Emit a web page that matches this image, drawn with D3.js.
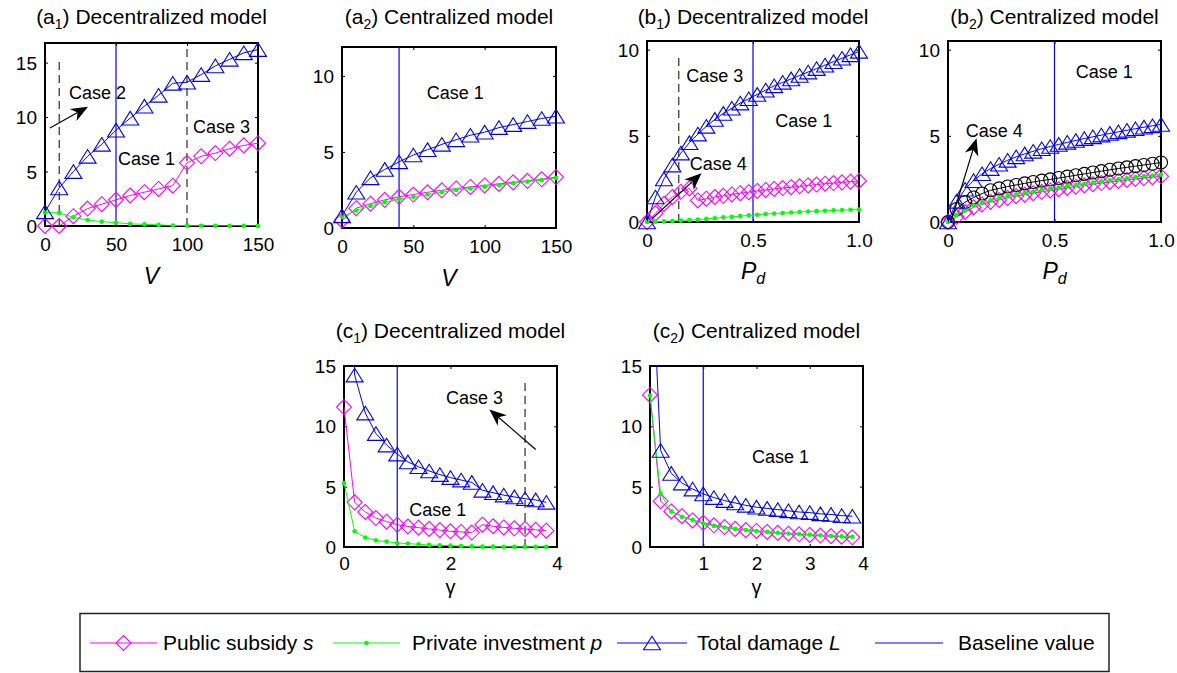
<!DOCTYPE html>
<html>
<head>
<meta charset="utf-8">
<script src="https://cdn.jsdelivr.net/npm/d3@7"></script>
<style>
  body { margin: 0; background: #fff; }
  svg text { font-family: "Liberation Sans", Arial, Helvetica, sans-serif; fill: #000; }
</style>
</head>
<body>
<div id="fig"></div>
<script>
// ---------------- data ----------------
// x levels
var vLevels = [0, 10, 20, 30, 40, 50, 60, 70, 80, 90, 100, 110, 120, 130, 140, 150];
var pdLevels = [0, 0.04, 0.08, 0.12, 0.16, 0.2, 0.24, 0.28, 0.32, 0.36, 0.4, 0.44, 0.48,
  0.52, 0.56, 0.6, 0.64, 0.68, 0.72, 0.76, 0.8, 0.84, 0.88, 0.92, 0.96, 1.0];
var gammaLevels = [0, 0.2, 0.4, 0.6, 0.8, 1.0, 1.2, 1.4, 1.6, 1.8, 2.0, 2.2, 2.4, 2.6, 2.8,
  3.0, 3.2, 3.4, 3.6, 3.8];

// (a1) decentralized, V
var a1Subsidy = [0, 0, 0.9, 1.6, 2.0, 2.4, 2.8, 3.1, 3.4, 3.7, 5.8, 6.4, 6.7, 7.1, 7.4, 7.6];
var a1Invest = [1.25, 1.2, 0.8, 0.55, 0.4, 0.3, 0.2, 0.15, 0.1, 0.05, 0.03, 0.02, 0.02, 0.01, 0.01, 0.01];
var a1Damage = [1.3, 3.5, 5.0, 6.4, 7.5, 8.8, 9.9, 11.0, 12.0, 13.1, 13.2, 13.9, 14.7, 15.3, 15.9, 16.2];

// (a2) centralized, V
var a2Subsidy = [0.5, 1.3, 1.6, 1.85, 2.05, 2.2, 2.35, 2.48, 2.6, 2.7, 2.8, 2.9, 3.0, 3.1, 3.2, 3.35];
var a2Invest = [0.75, 1.15, 1.45, 1.7, 1.9, 2.05, 2.2, 2.35, 2.5, 2.6, 2.72, 2.83, 2.95, 3.05, 3.15, 3.3];
var a2Damage = [0.8, 2.35, 3.3, 3.85, 4.35, 4.8, 5.15, 5.5, 5.8, 6.1, 6.3, 6.6, 6.8, 7.0, 7.2, 7.35];

// (b1) decentralized, Pd
var b1Subsidy = [0, 0.5, 1.05, 1.45, 1.75, 1.95, 1.25, 1.35, 1.45, 1.52, 1.6, 1.67, 1.73,
  1.8, 1.86, 1.92, 1.97, 2.02, 2.07, 2.12, 2.17, 2.22, 2.26, 2.3, 2.34, 2.38];
var b1Invest = [0, 0.02, 0.04, 0.06, 0.08, 0.11, 0.14, 0.18, 0.22, 0.27, 0.3, 0.34, 0.38,
  0.42, 0.46, 0.49, 0.52, 0.55, 0.58, 0.61, 0.63, 0.65, 0.67, 0.69, 0.71, 0.72];
var b1Damage = [0, 1.45, 2.5, 3.3, 4.0, 4.6, 5.1, 5.55, 5.95, 6.3, 6.6, 6.9, 7.15,
  7.4, 7.65, 7.9, 8.1, 8.3, 8.5, 8.7, 8.9, 9.1, 9.3, 9.5, 9.7, 9.9];

// (b2) centralized, Pd (circles: extra curve without legend entry)
var b2Subsidy = [0, 0.3, 0.58, 0.85, 1.02, 1.16, 1.28, 1.4, 1.5, 1.58, 1.67, 1.75, 1.83,
  1.9, 1.98, 2.05, 2.12, 2.19, 2.26, 2.32, 2.38, 2.44, 2.5, 2.55, 2.6, 2.65];
var b2Invest = [0, 0.4, 0.68, 0.95, 1.12, 1.26, 1.38, 1.5, 1.6, 1.68, 1.77, 1.85, 1.93,
  2.0, 2.08, 2.15, 2.22, 2.29, 2.36, 2.42, 2.48, 2.54, 2.6, 2.65, 2.7, 2.75];
var b2Damage = [0, 1.2, 1.9, 2.4, 2.8, 3.1, 3.35, 3.58, 3.78, 3.95, 4.1, 4.25, 4.38,
  4.5, 4.62, 4.73, 4.84, 4.94, 5.04, 5.14, 5.23, 5.32, 5.41, 5.5, 5.58, 5.66];
var b2Circle = [0, 0.75, 1.15, 1.42, 1.65, 1.84, 1.95, 2.06, 2.15, 2.24, 2.32, 2.4, 2.47,
  2.55, 2.63, 2.71, 2.79, 2.87, 2.95, 3.03, 3.1, 3.17, 3.24, 3.31, 3.38, 3.45];

// (c1) decentralized, gamma
var c1Subsidy = [11.6, 3.7, 2.9, 2.4, 2.1, 1.85, 1.7, 1.6, 1.5, 1.4, 1.3, 1.25, 1.2,
  1.85, 1.72, 1.62, 1.55, 1.5, 1.42, 1.35];
var c1Invest = [5.3, 1.3, 0.78, 0.55, 0.45, 0.33, 0.28, 0.22, 0.17, 0.14, 0.11, 0.08, 0.05,
  0.03, 0.03, 0.02, 0.02, 0.02, 0.02, 0.02];
var c1Damage = [60, 14.25, 11.1, 9.4, 8.45, 7.7, 7.05, 6.65, 6.3, 6.0, 5.75, 5.55, 5.35,
  4.7, 4.5, 4.3, 4.15, 4.0, 3.9, 3.7];

// (c2) centralized, gamma
var c2Subsidy = [12.6, 3.8, 2.95, 2.55, 2.2, 2.0, 1.8, 1.65, 1.5, 1.4, 1.33, 1.25, 1.17,
  1.1, 1.05, 1.0, 0.95, 0.9, 0.85, 0.8];
var c2Invest = [12.55, 4.4, 2.95, 2.5, 2.25, 1.95, 1.75, 1.62, 1.5, 1.4, 1.32, 1.25, 1.18,
  1.12, 1.07, 1.02, 0.97, 0.92, 0.88, 0.85];
var c2Damage = [27, 8.0, 6.1, 5.3, 4.8, 4.4, 4.1, 3.85, 3.65, 3.45, 3.3, 3.2, 3.1,
  3.0, 2.9, 2.85, 2.75, 2.7, 2.6, 2.55];

// ticks
var xTicksV = [0, 50, 100, 150];
var xTicksPd = [0, 0.5, 1.0];
var xTickLabelsPd = ["0", "0.5", "1.0"];
var xTicksG1 = [0, 2, 4];
var xTicksG2 = [1, 2, 3, 4];
var yTicks15 = [0, 5, 10, 15];
var yTicks10 = [0, 5, 10];

// titles and legend text
var titleLetters = ["a", "a", "b", "b", "c", "c"];
var titleIndex = ["1", "2", "1", "2", "1", "2"];
var titleModels = ["Decentralized model", "Centralized model", "Decentralized model",
  "Centralized model", "Decentralized model", "Centralized model"];
var legendNames = ["Public subsidy ", "Private investment ", "Total damage ", "Baseline value"];
var legendSymbols = ["s", "p", "L", ""];

// ---------------- styles ----------------
var MAGENTA = "#ff00ff", GREEN = "#00ff00", BLUE = "#0000ff";

var symDiamond = { draw: function (ctx, r) {
  ctx.moveTo(0, -r); ctx.lineTo(r, 0); ctx.lineTo(0, r); ctx.lineTo(-r, 0); ctx.closePath();
} };
var symTriangle = { draw: function (ctx, r) {
  ctx.moveTo(0, -r * 0.8); ctx.lineTo(r, r * 0.8); ctx.lineTo(-r, r * 0.8); ctx.closePath();
} };

var styleSubsidy = { color: MAGENTA, symbol: d3.symbol(symDiamond, 7.5), fill: "none" };
var styleInvest = { color: GREEN, symbol: d3.symbol(d3.symbolCircle, 17), fill: GREEN };
var styleDamage = { color: BLUE, symbol: d3.symbol(symTriangle, 8.5), fill: "none" };
var styleCircle = { color: "#000", symbol: d3.symbol(d3.symbolCircle, 133), fill: "none" };

// ---------------- panel set-up ----------------
var panels = [
  { left: 45, top: 43, w: 213, h: 183, xDomain: [0, 150], yDomain: [0, 16.8],
    xs: vLevels, series: [[a1Subsidy, styleSubsidy], [a1Invest, styleInvest], [a1Damage, styleDamage]],
    xTicks: xTicksV, yTicks: yTicks15, xLabel: "V", baseline: 50,
    dashed: [[10, 15.5], [100, 16.8]],
    cases: [["Case 2", 37, 12.2], ["Case 1", 71.5, 6.2], ["Case 3", 124.3, 9.1]],
    arrows: [[3.5, 9.0, 30.3, 10.95]] },
  { left: 342, top: 47, w: 214, h: 181, xDomain: [0, 150], yDomain: [0, 11.9],
    xs: vLevels, series: [[a2Subsidy, styleSubsidy], [a2Invest, styleInvest], [a2Damage, styleDamage]],
    xTicks: xTicksV, yTicks: yTicks10, xLabel: "V", baseline: 40,
    dashed: [], cases: [["Case 1", 79.4, 8.9]], arrows: [] },
  { left: 647, top: 41, w: 212, h: 181, xDomain: [0, 1], yDomain: [0, 10.5],
    xs: pdLevels, series: [[b1Subsidy, styleSubsidy], [b1Invest, styleInvest], [b1Damage, styleDamage]],
    xTicks: xTicksPd, xTickLabels: xTickLabelsPd, yTicks: yTicks10, xLabel: "Pd", baseline: 0.5,
    dashed: [[0.15, 9.8]],
    cases: [["Case 3", 0.32, 8.5], ["Case 1", 0.74, 5.9], ["Case 4", 0.336, 3.4]],
    arrows: [[0.025, 0.2, 0.257, 2.83]] },
  { left: 948, top: 41, w: 213, h: 181, xDomain: [0, 1], yDomain: [0, 10.5],
    xs: pdLevels, series: [[b2Subsidy, styleSubsidy], [b2Circle, styleCircle], [b2Invest, styleInvest], [b2Damage, styleDamage]],
    xTicks: xTicksPd, xTickLabels: xTickLabelsPd, yTicks: yTicks10, xLabel: "Pd", baseline: 0.5,
    dashed: [], cases: [["Case 1", 0.734, 8.74], ["Case 4", 0.217, 5.32]],
    arrows: [[0.016, 0.1, 0.134, 4.86]] },
  { left: 344, top: 366, w: 213, h: 181, xDomain: [0, 4], yDomain: [0, 15],
    xs: gammaLevels, series: [[c1Subsidy, styleSubsidy], [c1Invest, styleInvest], [c1Damage, styleDamage]],
    xTicks: xTicksG1, yTicks: yTicks15, xLabel: "γ", baseline: 1,
    dashed: [[3.4, 14]],
    cases: [["Case 3", 2.45, 12.4], ["Case 1", 1.76, 3.05]],
    arrows: [[3.6, 8.08, 2.73, 11.4]] },
  { left: 650, top: 366, w: 213, h: 181, xDomain: [0, 4], yDomain: [0, 15],
    xs: gammaLevels, series: [[c2Subsidy, styleSubsidy], [c2Invest, styleInvest], [c2Damage, styleDamage]],
    xTicks: xTicksG2, yTicks: yTicks15, xLabel: "γ", baseline: 1,
    dashed: [], cases: [["Case 1", 2.45, 7.5]], arrows: [] }
];

var svg = d3.select("#fig").append("svg")
  .attr("width", 1177)
  .attr("height", 673);

// arrow with a notched, filled head
function drawArrow(g, x1, y1, x2, y2) {
  var dx = x2 - x1, dy = y2 - y1, len = Math.sqrt(dx * dx + dy * dy);
  var ux = dx / len, uy = dy / len;
  var hl = 17, hw = 7, notch = 5;
  var bx = x2 - ux * hl, by = y2 - uy * hl;
  var nx = x2 - ux * (hl - notch), ny = y2 - uy * (hl - notch);
  g.append("line")
    .attr("x1", x1).attr("y1", y1).attr("x2", nx).attr("y2", ny)
    .attr("stroke", "#000").attr("stroke-width", 1.2);
  var pts = [[x2, y2], [bx - uy * hw, by + ux * hw], [nx, ny], [bx + uy * hw, by - ux * hw]];
  g.append("path").attr("d", "M" + pts.join("L") + "Z").attr("fill", "#000");
}

function drawPanel(p, k) {
  var g = svg.append("g");
  var x = d3.scaleLinear().domain(p.xDomain).range([p.left, p.left + p.w]);
  var y = d3.scaleLinear().domain(p.yDomain).range([p.top + p.h, p.top]);
  var bottom = p.top + p.h;
  var isGamma = p.xLabel === "γ";

  var clipId = "clip" + k;
  g.append("clipPath").attr("id", clipId)
    .append("rect").attr("x", p.left).attr("y", p.top).attr("width", p.w).attr("height", p.h);

  // ticks (inward, on all four sides) and tick labels
  var fmt = function (d, i) { return p.xTickLabels ? p.xTickLabels[i] : d; };
  var ax = [
    g.append("g").attr("transform", "translate(0," + bottom + ")")
      .call(d3.axisBottom(x).tickValues(p.xTicks).tickFormat(fmt).tickSizeInner(-3).tickSizeOuter(0).tickPadding(isGamma ? 10 : 12)),
    g.append("g").attr("transform", "translate(0," + p.top + ")")
      .call(d3.axisTop(x).tickValues(p.xTicks).tickFormat("").tickSizeInner(-3).tickSizeOuter(0)),
    g.append("g").attr("transform", "translate(" + p.left + ",0)")
      .call(d3.axisLeft(y).tickValues(p.yTicks).tickSizeInner(-3).tickSizeOuter(0).tickPadding(8)),
    g.append("g").attr("transform", "translate(" + (p.left + p.w) + ",0)")
      .call(d3.axisRight(y).tickValues(p.yTicks).tickFormat("").tickSizeInner(-3).tickSizeOuter(0))
  ];
  ax.forEach(function (a) {
    a.select(".domain").remove();
    a.attr("font-size", 19).attr("font-family", null);
    a.selectAll("line").attr("stroke", "#000");
  });
  ax[2].selectAll("text").attr("dy", "0.35em");

  // axes box
  g.append("rect")
    .attr("x", p.left).attr("y", p.top).attr("width", p.w).attr("height", p.h)
    .attr("fill", "none").attr("stroke", "#000").attr("stroke-width", 2);

  // baseline value (solid blue) and case boundaries (dashed black)
  g.append("line")
    .attr("x1", x(p.baseline)).attr("x2", x(p.baseline))
    .attr("y1", y(p.yDomain[0])).attr("y2", y(p.yDomain[1]))
    .attr("stroke", BLUE).attr("stroke-width", 1.2);
  p.dashed.forEach(function (d) {
    g.append("line")
      .attr("x1", x(d[0])).attr("x2", x(d[0]))
      .attr("y1", y(0)).attr("y2", y(d[1]))
      .attr("stroke", "#000").attr("stroke-width", 1).attr("stroke-dasharray", "8,5");
  });

  // series: clipped line, markers only for points inside the y range
  p.series.forEach(function (s) {
    var vals = s[0], st = s[1];
    var pts = p.xs.map(function (d, i) { return [d, vals[i]]; });
    g.append("path")
      .datum(pts)
      .attr("clip-path", "url(#" + clipId + ")")
      .attr("d", d3.line().x(function (d) { return x(d[0]); }).y(function (d) { return y(d[1]); }))
      .attr("fill", "none")
      .attr("stroke", st.color)
      .attr("stroke-width", 1);
    var inside = pts.filter(function (d) { return d[1] <= p.yDomain[1]; });
    g.selectAll(null)
      .data(inside)
      .enter()
      .append("path")
      .attr("transform", function (d) { return "translate(" + x(d[0]) + "," + y(d[1]) + ")"; })
      .attr("d", st.symbol)
      .attr("fill", st.fill)
      .attr("stroke", st.color)
      .attr("stroke-width", st.fill === "none" ? 1.1 : 0);
  });

  // case annotations
  p.cases.forEach(function (c) {
    g.append("text")
      .attr("x", x(c[1])).attr("y", y(c[2]))
      .attr("dy", "0.35em")
      .attr("text-anchor", "middle")
      .attr("font-size", 18)
      .text(c[0]);
  });
  p.arrows.forEach(function (a) {
    drawArrow(g, x(a[0]), y(a[1]), x(a[2]), y(a[3]));
  });

  // title
  var t = g.append("text")
    .attr("x", p.left + p.w / 2)
    .attr("y", p.top < 100 ? 24 : 338)
    .attr("text-anchor", "middle")
    .attr("font-size", 21);
  t.append("tspan").text("(" + titleLetters[k]);
  t.append("tspan").attr("font-size", 14).attr("dy", 5).text(titleIndex[k]);
  t.append("tspan").attr("dy", -5).text(") " + titleModels[k]);

  // x label
  var lab = g.append("text")
    .attr("x", p.left + p.w / 2)
    .attr("text-anchor", "middle");
  if (p.xLabel === "V") {
    lab.attr("y", bottom + 58).attr("font-size", 23).attr("font-style", "italic").text("V");
  } else if (p.xLabel === "Pd") {
    lab.attr("y", bottom + 57).attr("font-style", "italic");
    lab.append("tspan").attr("font-size", 23).text("P");
    lab.append("tspan").attr("font-size", 16).attr("dy", 5).text("d");
  } else {
    lab.attr("y", bottom + 47).attr("font-size", 20).text(p.xLabel);
  }
}

panels.forEach(drawPanel);

// ---------------- legend ----------------
var legendStyles = [styleSubsidy, styleInvest, styleDamage, null];
var legendLineX = [[90, 157], [333, 400], [617, 687], [875, 943]];
var legendTextX = [163, 412, 697, 958];
var legY = 643;

var leg = svg.append("g");
leg.append("rect")
  .attr("x", 80).attr("y", 613.5).attr("width", 1029).attr("height", 58)
  .attr("fill", "#fff").attr("stroke", "#222").attr("stroke-width", 1.5);

legendNames.forEach(function (name, i) {
  var st = legendStyles[i];
  var col = st ? st.color : BLUE;
  var lx = legendLineX[i];
  leg.append("line")
    .attr("x1", lx[0]).attr("x2", lx[1]).attr("y1", legY).attr("y2", legY)
    .attr("stroke", col).attr("stroke-width", 1.2);
  if (st) {
    leg.append("path")
      .attr("transform", "translate(" + (lx[0] + lx[1]) / 2 + "," + legY + ")")
      .attr("d", st.symbol)
      .attr("fill", st.fill)
      .attr("stroke", col)
      .attr("stroke-width", st.fill === "none" ? 1.1 : 0);
  }
  var tx = leg.append("text")
    .attr("x", legendTextX[i]).attr("y", legY)
    .attr("dy", "0.35em")
    .attr("font-size", 21);
  tx.append("tspan").text(name);
  if (legendSymbols[i]) tx.append("tspan").attr("font-style", "italic").text(legendSymbols[i]);
});
</script>
</body>
</html>
